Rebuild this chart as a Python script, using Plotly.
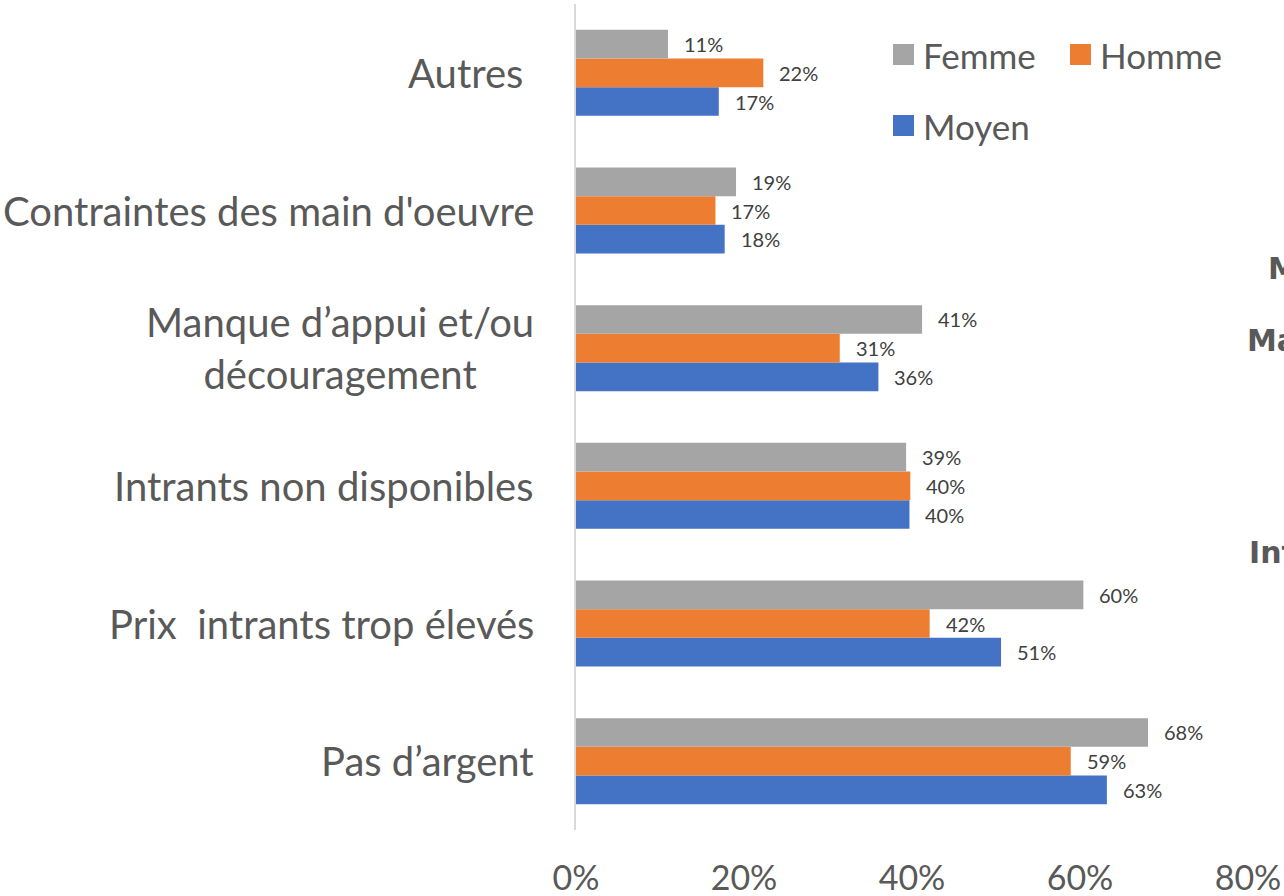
import plotly.graph_objects as go

# Categories listed bottom -> top
categories = [
    "Pas d’argent",
    "Prix\u00a0 intrants trop élevés",
    "Intrants non disponibles",
    "Manque d’appui et/ou<br>découragement",
    "Contraintes des main d'oeuvre",
    "Autres\u00a0",
]
femme = [0.681, 0.604, 0.393, 0.412, 0.1905, 0.1095]
homme = [0.589, 0.421, 0.398, 0.314, 0.166, 0.223]
moyen = [0.632, 0.506, 0.397, 0.360, 0.177, 0.170]

series_names = ["Moyen", "Homme", "Femme"]
series_values = [moyen, homme, femme]
series_colors = ["#4472C4", "#ED7D31", "#A5A5A5"]

x_ticks = [0, 0.2, 0.4, 0.6, 0.8]

TEXT = "#595959"
FONT = "Lato"

fig = go.Figure()
for name, vals, col in zip(series_names, series_values, series_colors):
    fig.add_trace(go.Bar(
        y=categories, x=vals, name=name, orientation="h",
        marker=dict(color=col, line=dict(width=0)),
        showlegend=False,
    ))

annotations = []
# data labels
shifts = {"Moyen": -28.7, "Homme": 0, "Femme": 28.7}
for name, vals in zip(series_names, series_values):
    for c, v in zip(categories, vals):
        annotations.append(dict(
            x=v, y=c, xref="x", yref="y", text=f"{round(v*100):d}%",
            showarrow=False, xanchor="left", yanchor="middle",
            xshift=14, yshift=shifts[name],
            font=dict(family=FONT, size=20, color="#404040"),
        ))
# category labels
for c in categories:
    annotations.append(dict(
        x=0, y=c, xref="paper", yref="y", text=c, showarrow=False,
        xanchor="right", yanchor="middle", align="center", xshift=-40,
        font=dict(family=FONT, size=40, color=TEXT),
    ))

# legend (manual)
legend_items = [("Femme", "#A5A5A5", 893, 55), ("Homme", "#ED7D31", 1070, 55), ("Moyen", "#4472C4", 893, 126)]
shapes = []
L, R, T, B = 576, 36, 4, 66
PW, PH = 1284 - L - R, 896 - T - B
for name, col, px, py in legend_items:
    x0 = (px - L) / PW
    x1 = (px + 21 - L) / PW
    y0 = 1 - (py + 10 - T) / PH
    y1 = 1 - (py - 11 - T) / PH
    shapes.append(dict(type="rect", xref="paper", yref="paper", x0=x0, x1=x1, y0=y0, y1=y1,
                       fillcolor=col, line=dict(width=0)))
    annotations.append(dict(
        x=(px + 28 - L) / PW, y=1 - (py - T) / PH, xref="paper", yref="paper",
        text=name, showarrow=False, xanchor="left", yanchor="middle",
        font=dict(family=FONT, size=35, color=TEXT),
    ))

# clipped text from an adjacent chart at the right edge
edge_texts = [("Manque", 1266, 268), ("Manque", 1245, 340), ("Intrants", 1247, 552)]
for t, px, py in edge_texts:
    annotations.append(dict(
        x=(px - L) / PW, y=1 - (py - T) / PH, xref="paper", yref="paper",
        text=f"<b>{t}</b>", showarrow=False, xanchor="left", yanchor="middle",
        font=dict(family="DejaVu Sans", size=30, color="#595959"),
    ))

fig.update_layout(
    width=1284, height=896,
    margin=dict(l=L, r=R, t=T, b=B, pad=0, autoexpand=False),
    paper_bgcolor="white", plot_bgcolor="white",
    barmode="group", bargap=0.375, bargroupgap=0,
    showlegend=False,
    xaxis=dict(range=[0, 0.8], tickvals=x_ticks, tickformat=".0%",
               showgrid=False, zeroline=False, showline=False, automargin=False,
               ticks="outside", ticklen=18, tickcolor="rgba(0,0,0,0)",
               tickfont=dict(family=FONT, size=34, color=TEXT)),
    yaxis=dict(showticklabels=False, showgrid=False, zeroline=False, automargin=False,
               showline=True, linecolor="#D9D9D9", linewidth=2,
               ticks=""),
    annotations=annotations, shapes=shapes,
)

fig.write_html("out.html", config={"displayModeBar": False},
               post_script="document.body.style.margin='0';document.body.style.overflow='hidden';")
